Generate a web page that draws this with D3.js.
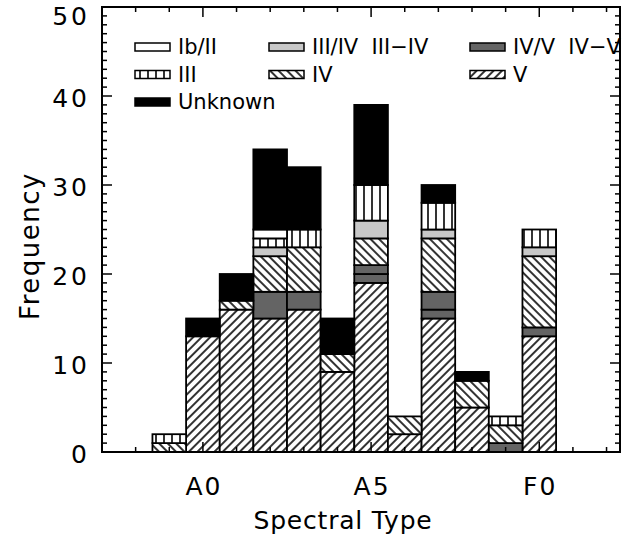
<!DOCTYPE html>
<html><head><meta charset="utf-8">
<script src="https://cdn.jsdelivr.net/npm/d3@7"></script>
<style>
html,body{margin:0;padding:0;background:#fff;}
svg text{font-family:"DejaVu Sans",sans-serif;fill:#000;white-space:pre;}
</style></head>
<body>
<svg id="c" width="633" height="539"></svg>
<script>
// ---- data ----
const categories = ["B9","A0","A1","A2","A3","A4","A5","A6","A7","A8","A9","F0"];
const positions = [-1,0,1,2,3,4,5,6,7,8,9,10];
const xTickValues = [0,5,10];
const xTickLabels = ["A0","A5","F0"];
const yTickValues = [0,10,20,30,40,50];
const classV      = [0,13,16,15,16,9,19,2,15,5,0,13];
const classIVslV  = [0,0,0,3,2,0,1,0,1,0,1,1];
const classIVdV   = [0,0,0,0,0,0,1,0,2,0,0,0];
const classIV     = [1,0,1,4,5,2,3,2,6,3,2,8];
const classIIIslIV= [0,0,0,1,0,0,2,0,1,0,0,1];
const classIIIdIV = [0,0,0,0,0,0,0,0,0,0,0,0];
const classIII    = [1,0,0,1,2,0,4,0,3,0,1,2];
const classIbII   = [0,0,0,1,0,0,0,0,0,0,0,0];
const classUnknown= [0,2,3,9,7,4,9,0,2,1,0,0];

// stack order bottom -> top
const series = [
  {key:"V", vals:classV, fill:"url(#hV)"},
  {key:"IV/V", vals:classIVslV, fill:"#646464"},
  {key:"IV−V", vals:classIVdV, fill:"#646464"},
  {key:"IV", vals:classIV, fill:"url(#hIV)"},
  {key:"III/IV", vals:classIIIslIV, fill:"#c8c8c8"},
  {key:"III−IV", vals:classIIIdIV, fill:"#c8c8c8"},
  {key:"III", vals:classIII, fill:"url(#hIII)"},
  {key:"Ib/II", vals:classIbII, fill:"#ffffff"},
  {key:"Unknown", vals:classUnknown, fill:"#000000"}
];
const legendItems = [
  {label:"Ib/II", fill:"#ffffff", col:0,row:0},
  {label:"III/IV  III−IV", fill:"#c8c8c8", col:1,row:0},
  {label:"IV/V  IV−V", fill:"#646464", col:2,row:0},
  {label:"III", fill:"url(#hIII)", col:0,row:1},
  {label:"IV", fill:"url(#hIV)", col:1,row:1},
  {label:"V", fill:"url(#hV)", col:2,row:1},
  {label:"Unknown", fill:"#000000", col:0,row:2}
];

const svg = d3.select("#c");
const L=102, R=620, T=7, B=452;
const x = d3.scaleLinear().domain([-3,12.4]).range([L,R]);
const y = d3.scaleLinear().domain([0,50]).range([B,T]);

// patterns
const defs = svg.append("defs");
function hatch(id, angle, w){
  const p = defs.append("pattern").attr("id",id).attr("patternUnits","userSpaceOnUse")
    .attr("width",w).attr("height",w).attr("patternTransform",`rotate(${angle})`);
  p.append("rect").attr("width",w).attr("height",w).attr("fill","#fff");
  p.append("line").attr("x1",w/2).attr("x2",w/2).attr("y1",0).attr("y2",w)
    .attr("stroke","#000").attr("stroke-width",1.6);
}
hatch("hV",45,6);
hatch("hIV",-45,6);
hatch("hIII",0,8);

// stack
const rows = categories.map((c,i)=>{const o={pos:positions[i]}; series.forEach(s=>o[s.key]=s.vals[i]); return o;});
const stack = d3.stack().keys(series.map(s=>s.key))(rows);
const g = svg.append("g");
stack.forEach((layer,li)=>{
  g.selectAll(null).data(layer.filter(d=>d[1]>d[0])).enter().append("rect")
    .attr("x",d=>x(d.data.pos-0.5)).attr("width",d=>x(d.data.pos+0.5)-x(d.data.pos-0.5))
    .attr("y",d=>y(d[1])).attr("height",d=>y(d[0])-y(d[1]))
    .attr("fill",series[li].fill).attr("stroke","#000").attr("stroke-width",1.8);
});

// frame and ticks
const ax = svg.append("g").attr("stroke","#000").attr("fill","none");
ax.append("rect").attr("x",L).attr("y",T).attr("width",R-L).attr("height",B-T).attr("stroke-width",2);
const yMinor = d3.range(0,51,1);
yMinor.forEach(v=>{
  const len = v%10===0?10:5;
  ax.append("line").attr("x1",L).attr("x2",L+len).attr("y1",y(v)).attr("y2",y(v)).attr("stroke-width",1.5);
  ax.append("line").attr("x1",R).attr("x2",R-len).attr("y1",y(v)).attr("y2",y(v)).attr("stroke-width",1.5);
});
const xMinor = d3.range(-2,13,1);
xMinor.forEach(v=>{
  const len = xTickValues.includes(v)?10:5;
  ax.append("line").attr("x1",x(v)).attr("x2",x(v)).attr("y1",B).attr("y2",B-len).attr("stroke-width",1.5);
  ax.append("line").attr("x1",x(v)).attr("x2",x(v)).attr("y1",T).attr("y2",T+len).attr("stroke-width",1.5);
});

// tick labels
svg.append("g").selectAll("text").data(yTickValues).enter().append("text")
  .attr("x",90).attr("y",d=>Math.max(y(d)+2,16)).attr("dy","0.35em")
  .attr("text-anchor","end").attr("font-size",25).attr("letter-spacing",3).text(d=>d);
svg.append("g").selectAll("text").data(xTickValues).enter().append("text")
  .attr("x",d=>x(d)+1).attr("y",495).attr("text-anchor","middle").attr("font-size",25)
  .attr("letter-spacing",2).text((d,i)=>xTickLabels[i]);
svg.append("text").attr("x",(L+R)/2-18).attr("y",529).attr("text-anchor","middle")
  .attr("font-size",25).attr("letter-spacing",0.8).text("Spectral Type");
svg.append("text").attr("transform","translate(39,246) rotate(-90)").attr("text-anchor","middle")
  .attr("font-size",26).attr("letter-spacing",1.5).text("Frequency");

// legend
const colX=[135,269,470], rowY=[47,74.5,102];
const lg = svg.append("g");
legendItems.forEach(it=>{
  const gx=colX[it.col], gy=rowY[it.row];
  lg.append("rect").attr("x",gx).attr("y",gy-4).attr("width",35).attr("height",8)
    .attr("fill",it.fill).attr("stroke","#000").attr("stroke-width",1.5);
  lg.append("text").attr("x",gx+43).attr("y",gy).attr("dy","0.35em").attr("font-size",21).text(it.label);
});
</script>
</body></html>
